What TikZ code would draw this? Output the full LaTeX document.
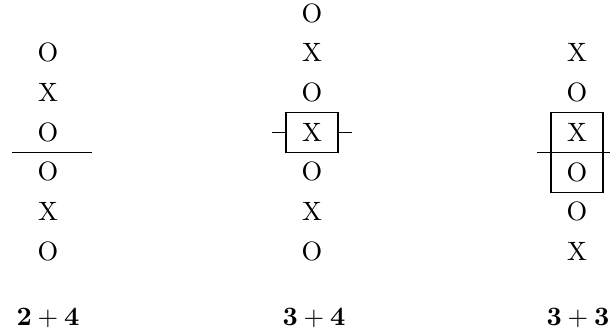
\documentclass[tikz,border=0pt]{standalone}
\begin{document}
\begin{tikzpicture}[x=0.377pt,y=-0.377pt,
  cell/.style={inner sep=0pt},
  boxed/.style={draw, line width=0.4pt, minimum width=19.6pt, minimum height=15.1pt, inner sep=0pt},
  sumlabel/.style={inner sep=0pt}]
\useasboundingbox (0,0) rectangle (610,335);
% left column
\node[cell] (a1) at (48,52.7) {O};
\node[cell] (a2) at (48,92.4) {X};
\node[cell] (a3) at (48,132.1) {O};
\node[cell] (a4) at (48,171.8) {O};
\node[cell] (a5) at (48,211.5) {X};
\node[cell] (a6) at (48,251.2) {O};
\coordinate (al) at (12,152.5);
\coordinate (ar) at (92,152.5);
\draw (al) -- (ar);
% middle column
\node[cell] (b0) at (312,13) {O};
\node[cell] (b1) at (312,52.7) {X};
\node[cell] (b2) at (312,92.4) {O};
\node[boxed] (b3) at (312,132.5) {X};
\node[cell] (b4) at (312,171.8) {O};
\node[cell] (b5) at (312,211.5) {X};
\node[cell] (b6) at (312,251.2) {O};
\coordinate (bl) at (272,132.5);
\coordinate (br) at (352,132.5);
\draw (bl) -- (b3.west);
\draw (b3.east) -- (br);
% right column
\node[cell] (c1) at (577,52.7) {X};
\node[cell] (c2) at (577,92.4) {O};
\node[boxed] (c3) at (577,132.5) {X};
\node[boxed] (c4) at (577,172.5) {O};
\node[cell] (c5) at (577,211.5) {O};
\node[cell] (c6) at (577,251.2) {X};
\coordinate (cl) at (537,152.5);
\coordinate (cr) at (610,152.5);
\draw (cl) -- (cr);
% labels
\node[sumlabel] (la) at (48,318) {$\mathbf{2}+\mathbf{4}$};
\node[sumlabel] (lb) at (314,318) {$\mathbf{3}+\mathbf{4}$};
\node[sumlabel] (lc) at (578,318) {$\mathbf{3}+\mathbf{3}$};
\end{tikzpicture}
\end{document}
